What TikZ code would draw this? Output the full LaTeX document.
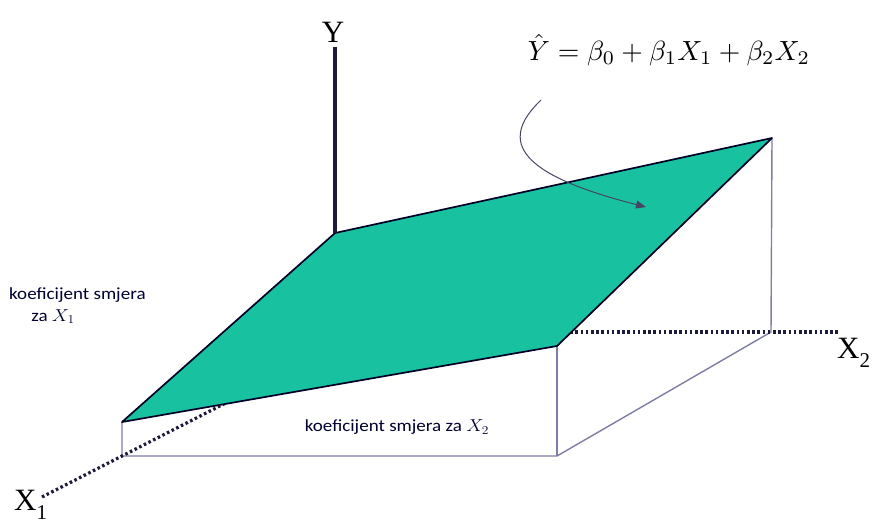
\documentclass[tikz,border=0pt]{standalone}
\usepackage{fontspec}
\usepackage{amsmath}
\newfontfamily\notefont{Carlito}
\newfontfamily\axisfont{Liberation Serif}
\usetikzlibrary{arrows.meta}
\definecolor{planegreen}{RGB}{24,194,160}
\definecolor{boxline}{RGB}{125,125,165}
\definecolor{axisnavy}{RGB}{28,28,58}
\definecolor{pointer}{RGB}{70,70,100}

\begin{document}
\begin{tikzpicture}[x=1pt, y=-1pt,
  planeedge/.style={draw=black!85!blue, line width=1.7pt, line join=round},
  boxln/.style={draw=boxline, line width=1.4pt},
  dotaxis/.style={draw=axisnavy, line width=3.2pt, dash pattern=on 2.6pt off 2.6pt},
  axislabel/.style={font=\axisfont\fontsize{31}{31}\selectfont, inner sep=0pt},
  coefnote/.style={font=\notefont\fontsize{17}{21}\selectfont, text=black!80!blue, inner sep=0pt}]
\useasboundingbox (0,0) rectangle (882,520);
% ---- corners of the plane and of the box under it ----
\coordinate (pback) at (335,233);
\coordinate (pright) at (772,138);
\coordinate (pfront) at (557,346);
\coordinate (pleft) at (122,422);
\coordinate (bleft) at (122,456);
\coordinate (bfront) at (557,456);
\coordinate (bright) at (771,332);
% ---- box ----
\draw[boxln] (pleft) -- (bleft) -- (bfront) -- (bright) -- (pright);
\draw[boxln] (pfront) -- (bfront);
% ---- dotted axes X1, X2 ----
\coordinate (x2start) at (565,332);
\coordinate (x2end) at (840,332);
\coordinate (x1end) at (42,497);
\coordinate (x1hide) at (300,365);
\draw[dotaxis] (x2start) -- (x2end);
\draw[dotaxis] (x1end) -- (bleft) -- (x1hide);
% ---- regression plane ----
\filldraw[planeedge, fill=planegreen] (pback) -- (pright) -- (pfront) -- (pleft) -- cycle;
% ---- Y axis ----
\coordinate (ytop) at (335,47);
\draw[draw=axisnavy, line width=3.4pt] (pback) -- (ytop);
\node[axislabel, anchor=base] (ylab) at (333,42) {Y};
\node[axislabel, anchor=base west] (x2lab) at (837,358) {X\raisebox{-0.32em}{\fontsize{21}{21}\selectfont 2}};
\node[axislabel, anchor=base west] (x1lab) at (14,510) {X\raisebox{-0.3em}{\fontsize{21}{21}\selectfont 1}};
% ---- equation and pointer ----
\node[inner sep=0pt] (eq) at (669,50) {\resizebox{282pt}{!}{$\hat{Y} = \beta_0 + \beta_1X_1 + \beta_2X_2$}};
\coordinate (curvestart) at (541,100);
\coordinate (curveend) at (646,207);
\draw[draw=pointer, line width=1pt, -{Triangle[length=10pt, width=8pt]}]
  (curvestart) .. controls (497,142) and (520,175) .. (curveend);
% ---- notes ----
\node[coefnote, anchor=north west, align=left] (note1) at (9,287) {\scalebox{1.12}[1]{koeficijent smjera}\\[1pt]\hspace{1.3em}\scalebox{1.12}[1]{za $X_1$}};
\node[coefnote] (note2) at (397,427) {\scalebox{1.12}[1]{koeficijent smjera za $X_2$}};
\end{tikzpicture}
\end{document}
